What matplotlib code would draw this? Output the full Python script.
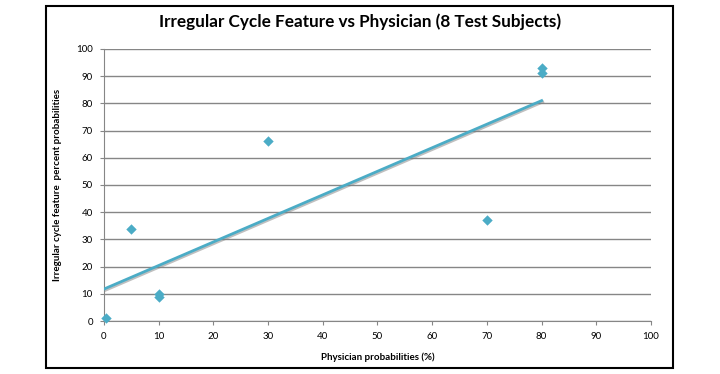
import numpy as np
import matplotlib.pyplot as plt
import matplotlib.patheffects as pe
from matplotlib.patches import Rectangle

# 数据
physician = [0.3, 5, 10, 10, 30, 70, 80, 80]
feature = [1, 34, 10, 9, 66, 37, 93, 91]
x_ticks = [0, 10, 20, 30, 40, 50, 60, 70, 80, 90, 100]
y_ticks = [0, 10, 20, 30, 40, 50, 60, 70, 80, 90, 100]

color = '#4BACC6'
grid_c = '#868686'

plt.rcParams['font.family'] = ['Lato', 'DejaVu Sans']

fig = plt.figure(figsize=(7.2, 3.74), dpi=100)
ax = fig.add_axes([0.1444, 0.1417, 0.7598, 0.7273])

# 外框
fig.patches.append(Rectangle((0.0639, 0.016), 0.8708, 0.968, transform=fig.transFigure,
                             fill=False, edgecolor='black', linewidth=1.5))

ax.scatter(physician, feature, marker='D', s=28, color=color, zorder=5, linewidths=0,
           clip_on=False)

# 线性趋势线
k, b = np.polyfit(physician, feature, 1)
xs = np.array([0, max(physician)])
ax.plot(xs, k * xs + b, color=color, linewidth=2, zorder=4,
        path_effects=[pe.SimpleLineShadow(offset=(0.8, -1), shadow_color='gray', alpha=0.5),
                      pe.Normal()])

ax.set_xlim(0, 100)
ax.set_ylim(0, 100)
ax.set_xticks(x_ticks)
ax.set_yticks(y_ticks)
ax.yaxis.grid(True, color=grid_c, linewidth=1)
ax.set_axisbelow(True)
for s in ['top', 'right']:
    ax.spines[s].set_visible(False)
for s in ['left', 'bottom']:
    ax.spines[s].set_color(grid_c)
ax.tick_params(axis='both', colors=grid_c, length=3, labelsize=7, labelcolor='black', pad=5)

ax.set_xlabel('Physician probabilities (%)', fontsize=7, fontweight='bold', labelpad=8)
ax.set_ylabel('Irregular cycle feature  percent probabilities', fontsize=7, fontweight='bold', labelpad=10)
fig.text(0.5, 0.941, 'Irregular Cycle Feature vs Physician (8 Test Subjects)',
         ha='center', va='center', fontsize=12.3, fontweight='bold')

fig.savefig('out.png', dpi=100)
